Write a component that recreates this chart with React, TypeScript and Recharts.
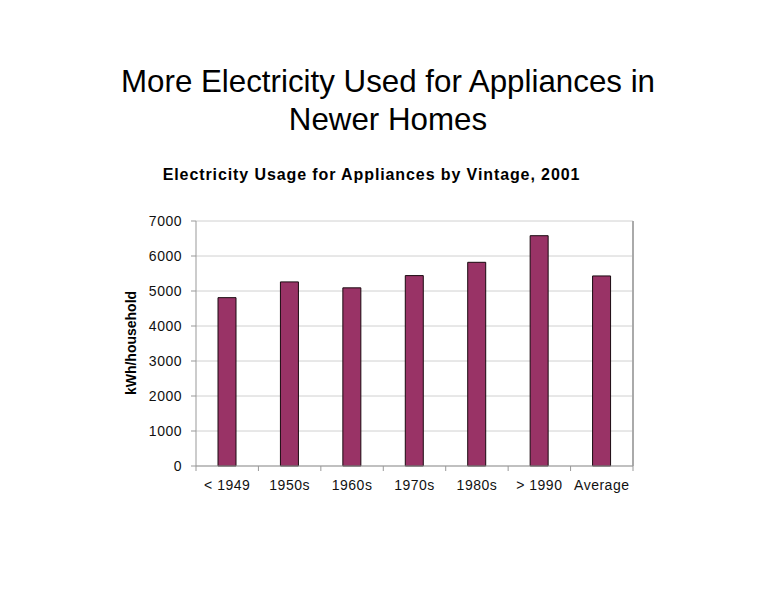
import React from 'react';
import { BarChart, Bar, XAxis, YAxis, CartesianGrid } from 'recharts';

const vintages = ['< 1949', '1950s', '1960s', '1970s', '1980s', '> 1990', 'Average'];
const usage = [4810, 5260, 5090, 5440, 5820, 6580, 5430];
const yTicks = [0, 1000, 2000, 3000, 4000, 5000, 6000, 7000];

const data = vintages.map((name, i) => ({ name, usage: usage[i] }));

const W = 776;
const H = 600;
const margin = { top: 221, right: 143, bottom: 104, left: 126 };
const Y_AXIS_W = 70;
const PLOT_W = W - margin.left - Y_AXIS_W - margin.right;
const FONT = '"Liberation Sans", Arial, Helvetica, sans-serif';

// Excel-style category axis: label in the middle, tick marks on the band edges
const CategoryTick = (props: any) => {
  const { x, y, payload, index, visibleTicksCount } = props;
  const half = PLOT_W / (visibleTicksCount || vintages.length) / 2;
  const axisY = y - 7;
  return (
    <g>
      <line x1={x - half} x2={x - half} y1={axisY} y2={axisY + 5} stroke="#999" />
      {index === visibleTicksCount - 1 && (
        <line x1={x + half} x2={x + half} y1={axisY} y2={axisY + 5} stroke="#999" />
      )}
      <text x={x} y={y + 17} textAnchor="middle" fill="#111" fontSize={14} letterSpacing={0.5} fontFamily={FONT}>
        {payload.value}
      </text>
    </g>
  );
};

// right-hand edge of the plot frame
const rightEdge = ({ offset }: any) => [offset.left + offset.width];

export default function App() {
  return (
    <div style={{ position: 'absolute', left: 0, top: 0, width: W, height: H, background: '#fff', fontFamily: FONT }}>
      <div
        style={{
          position: 'absolute',
          left: 0,
          top: 63,
          width: W,
          textAlign: 'center',
          fontSize: 31.3,
          lineHeight: '38px',
          color: '#000',
        }}
      >
        More Electricity Used for Appliances in
        <br />
        Newer Homes
      </div>
      <div
        style={{
          position: 'absolute',
          left: 0,
          top: 165,
          width: 743,
          textAlign: 'center',
          fontSize: 16,
          lineHeight: '20px',
          fontWeight: 'bold',
          letterSpacing: 0.9,
          color: '#000',
        }}
      >
        Electricity Usage for Appliances by Vintage, 2001
      </div>
      <div
        style={{
          position: 'absolute',
          left: 131 - 80,
          top: 343 - 10,
          width: 160,
          height: 20,
          lineHeight: '20px',
          textAlign: 'center',
          fontSize: 14,
          fontWeight: 'bold',
          transform: 'rotate(-90deg)',
          color: '#000',
        }}
      >
        kWh/household
      </div>
      <div style={{ position: 'absolute', left: 0, top: 0 }}>
        <BarChart width={W} height={H} data={data} margin={margin} barSize={18}>
          <CartesianGrid vertical={false} stroke="#d0d0d0" />
          <CartesianGrid horizontal={false} verticalCoordinatesGenerator={rightEdge} stroke="#aaa" strokeWidth={2} />
          <XAxis
            dataKey="name"
            axisLine={{ stroke: '#999' }}
            tickLine={false}
            tickSize={5}
            tickMargin={2}
            height={30}
            interval={0}
            tick={<CategoryTick />}
          />
          <YAxis
            width={Y_AXIS_W}
            domain={[0, 7000]}
            ticks={yTicks}
            interval={0}
            axisLine={{ stroke: '#999' }}
            tickLine={{ stroke: '#999' }}
            tickSize={5}
            tickMargin={9}
            tick={{ fill: '#111', fontSize: 14, letterSpacing: 0.5, fontFamily: FONT }}
          />
          <Bar dataKey="usage" fill="#993366" stroke="#1a0a10" strokeWidth={1} isAnimationActive={false} />
        </BarChart>
      </div>
    </div>
  );
}
